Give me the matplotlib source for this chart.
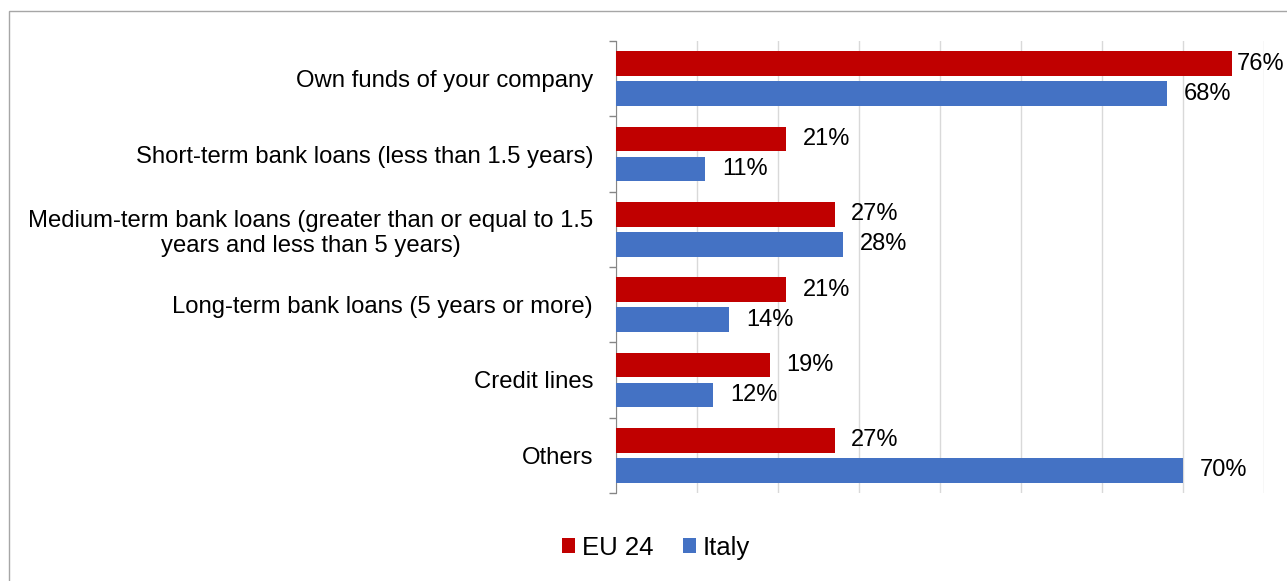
import matplotlib.pyplot as plt
import matplotlib.patches as patches
import numpy as np

plt.rcParams['font.family'] = ['Liberation Sans', 'DejaVu Sans']

# Sources of finance, share of companies
categories = ["Own funds of your company",
              "Short-term bank loans (less than 1.5 years)",
              "Medium-term bank loans (greater than or equal to 1.5\nyears and less than 5 years)",
              "Long-term bank loans (5 years or more)",
              "Credit lines",
              "Others"]
eu24 = [76, 21, 27, 21, 19, 27]
italy = [68, 11, 28, 14, 12, 70]
series_names = ["EU 24", "Italy"]
colors = ["#C00000", "#4472C4"]

fig = plt.figure(figsize=(12.87, 5.81), dpi=100)
ax = fig.add_axes([616/1287, 1 - 493/581, 648/1287, 452/581])

y = np.arange(len(categories))
h = 0.33
b1 = ax.barh(y - 0.2, eu24, height=h, color=colors[0], label=series_names[0], zorder=3)
b2 = ax.barh(y + 0.2, italy, height=h, color=colors[1], label=series_names[1], zorder=3)

# value labels next to each bar
for bars, vals in [(b1, eu24), (b2, italy)]:
    for bar, v in zip(bars, vals):
        pad = 4 if v > 72 else 12
        ax.annotate(f"{v}%", (bar.get_width(), bar.get_y() + bar.get_height() / 2),
                    xytext=(pad, 0), textcoords="offset points",
                    ha="left", va="center", fontsize=17)

ax.set_xlim(0, 80)
ax.set_ylim(len(categories) - 0.5, -0.5)
ax.set_xticks(np.arange(0, 81, 10))
ax.tick_params(axis="x", length=0, labelbottom=False)
ax.grid(axis="x", color="#D9D9D9", lw=1, zorder=0)

ax.set_yticks(y)
ax.set_yticklabels(categories, fontsize=17.2)
for lab in ax.get_yticklabels():
    lab.set_multialignment("center")
ax.set_yticks(np.arange(-0.5, len(categories)), minor=True)
ax.tick_params(axis="y", which="major", length=0, pad=16.5)
ax.tick_params(axis="y", which="minor", length=5, color="#868686", width=1)

for s in ["top", "right", "bottom"]:
    ax.spines[s].set_visible(False)
ax.spines["left"].set_color("#868686")

fig.legend(loc="center", bbox_to_anchor=(656/1287, 1 - 548/581), ncol=2, frameon=False,
           fontsize=18.5, handlelength=0.52, handleheight=0.52, handletextpad=0.25,
           columnspacing=1.15)

# chart frame
fig.patches.append(patches.Rectangle((9/1287, -0.1), 2, 1.1 - 11/581, transform=fig.transFigure,
                                     fill=False, edgecolor="#A6A6A6", lw=1))

fig.savefig("out.png", dpi=100)
